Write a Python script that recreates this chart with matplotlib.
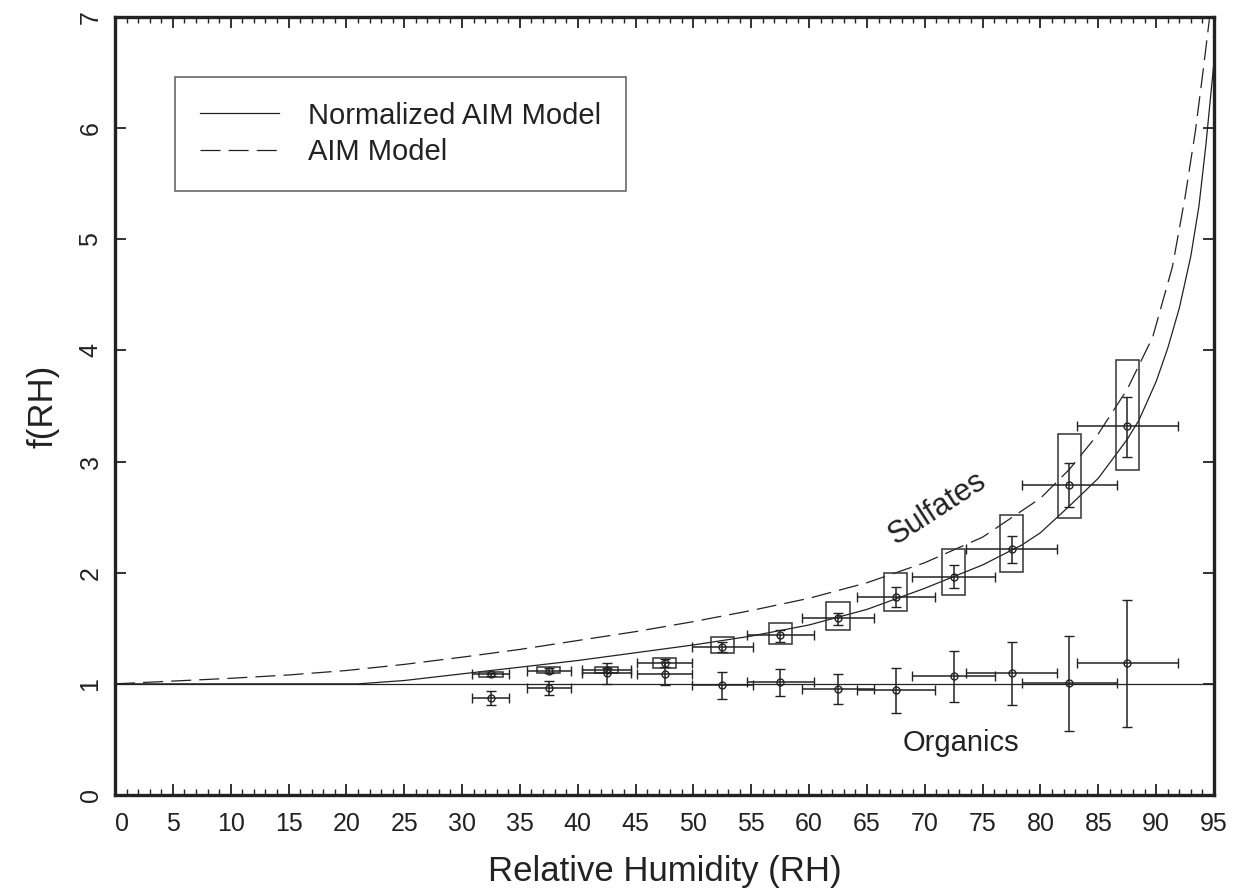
import matplotlib
matplotlib.use("Agg")
import matplotlib.pyplot as plt
from matplotlib.patches import Rectangle
from matplotlib.ticker import MultipleLocator
from matplotlib.lines import Line2D

plt.rcParams['font.family'] = ['Liberation Sans', 'DejaVu Sans']

# ---------------- data ----------------
rh_bins = [32.5, 37.5, 42.5, 47.5, 52.5, 57.5, 62.5, 67.5, 72.5, 77.5, 82.5, 87.5]
rh_half_width = [1.6, 1.9, 2.1, 2.35, 2.65, 2.9, 3.1, 3.4, 3.6, 3.9, 4.1, 4.35]

sulf_f = [1.09, 1.12, 1.125, 1.185, 1.335, 1.437, 1.59, 1.785, 1.965, 2.21, 2.79, 3.32]
sulf_err_lo = [1.075, 1.10, 1.105, 1.15, 1.29, 1.38, 1.53, 1.695, 1.866, 2.085, 2.595, 3.045]
sulf_err_hi = [1.10, 1.14, 1.145, 1.22, 1.38, 1.485, 1.64, 1.875, 2.065, 2.334, 2.985, 3.585]
sulf_box_lo = [1.065, 1.095, 1.095, 1.146, 1.275, 1.36, 1.485, 1.656, 1.80, 2.005, 2.49, 2.925]
sulf_box_hi = [1.11, 1.15, 1.15, 1.23, 1.425, 1.545, 1.735, 1.995, 2.21, 2.52, 3.246, 3.91]

org_f = [0.876, 0.966, 1.095, 1.089, 0.99, 1.014, 0.954, 0.945, 1.071, 1.095, 1.005, 1.185]
org_err_lo = [0.81, 0.90, 1.0, 0.99, 0.864, 0.891, 0.819, 0.735, 0.84, 0.81, 0.579, 0.609]
org_err_hi = [0.94, 1.03, 1.185, 1.20, 1.105, 1.134, 1.086, 1.146, 1.30, 1.377, 1.434, 1.755]

aim_rh = [0, 5, 10, 15, 20, 25, 30, 35, 40, 45, 50, 55, 60, 65, 70, 75, 80, 82.5,
          85, 87.5, 89.7, 91.4, 92.5, 93.4, 94.1, 94.6]
aim_f = [1.0, 1.025, 1.05, 1.08, 1.12, 1.175, 1.24, 1.31, 1.39, 1.47, 1.56, 1.66,
         1.77, 1.91, 2.09, 2.32, 2.67, 2.93, 3.25, 3.65, 4.12, 4.75, 5.38, 5.98,
         6.55, 6.98]

norm_rh = [0, 21, 25, 30, 35, 40, 45, 50, 55, 60, 65, 70, 75, 78.4, 80, 82.5, 85,
           87.5, 88.5, 90, 91, 92, 93, 93.7, 94.3, 95]
norm_f = [1.0, 1.0, 1.03, 1.09, 1.15, 1.21, 1.28, 1.35, 1.43, 1.53, 1.67, 1.86,
          2.07, 2.25, 2.36, 2.6, 2.85, 3.2, 3.37, 3.72, 4.02, 4.38, 4.85, 5.3, 5.85, 6.6]

x_ticks = list(range(0, 96, 5))
y_ticks = list(range(0, 8))

BOX_HALF = 1.0
INK = '#222222'

# ---------------- figure ----------------
fig = plt.figure(figsize=(12.33, 8.96), dpi=100)
ax = fig.add_axes([115/1233, 1-795/896, (1214-115)/1233, (795-17)/896])
ax.set_xlim(0, 95)
ax.set_ylim(0, 7)

# reference line at 1
ax.axhline(1.0, color=INK, lw=0.9, zorder=2)

# model curves
ax.plot(norm_rh, norm_f, color=INK, lw=0.9, zorder=3)
ax.plot(aim_rh, aim_f, color=INK, lw=0.9, dashes=(16, 6.5), zorder=3)

# sulfate boxes
for x, lo, hi in zip(rh_bins, sulf_box_lo, sulf_box_hi):
    ax.add_patch(Rectangle((x - BOX_HALF, lo), 2 * BOX_HALF, hi - lo,
                           fill=False, edgecolor='#333333', lw=1.1, zorder=4))

def errs(center, lo, hi):
    return [[c - l for c, l in zip(center, lo)], [h - c for c, h in zip(center, hi)]]

common = dict(fmt='o', mfc='none', mec=INK, ms=5, mew=1.0, ecolor=INK,
              elinewidth=1.1, capsize=3.3, capthick=1.1, zorder=5)
ax.errorbar(rh_bins, sulf_f, yerr=errs(sulf_f, sulf_err_lo, sulf_err_hi),
            xerr=rh_half_width, **common)
ax.errorbar(rh_bins, org_f, yerr=errs(org_f, org_err_lo, org_err_hi),
            xerr=rh_half_width, **common)

# annotations
ax.text(71.1, 2.58, 'Sulfates', rotation=33, ha='center', va='center',
        fontsize=22, color=INK)
ax.text(73.1, 0.47, 'Organics', ha='center', va='center', fontsize=21, color=INK)

# ticks / spines
ax.set_xticks(x_ticks)
ax.set_yticks(y_ticks)
ax.xaxis.set_minor_locator(MultipleLocator(1))
ax.tick_params(axis='both', which='major', direction='in', length=8, width=1.3,
               color=INK, labelsize=18, labelcolor=INK, top=True, right=True)
ax.tick_params(axis='x', which='minor', direction='in', length=4.5, width=1.0,
               color=INK, top=True, bottom=True)
ax.tick_params(axis='x', which='major', pad=12)
ax.tick_params(axis='y', which='major', pad=9)
for lab in ax.get_yticklabels():
    lab.set_rotation(90)
    lab.set_va('center')
ax.get_xticklabels()[0].set_ha('left')
for s in ax.spines.values():
    s.set_linewidth(2.4)
    s.set_color(INK)

ax.set_xlabel('Relative Humidity (RH)', fontsize=25, color=INK, labelpad=14)
ax.set_ylabel('f(RH)', fontsize=25, color=INK, labelpad=14)

# legend
handles = [Line2D([], [], color=INK, lw=0.9),
           Line2D([], [], color=INK, lw=0.9, dashes=(16, 6.5))]
leg = ax.legend(handles, ['Normalized AIM Model', 'AIM Model'],
                loc='upper left', bbox_to_anchor=(0.055, 0.923),
                fontsize=21, frameon=True, fancybox=False, handlelength=2.7,
                handletextpad=1.0, borderpad=0.85, labelspacing=0.3,
                borderaxespad=0)
leg.get_frame().set_edgecolor('#333333')
leg.get_frame().set_linewidth(1.1)
for t in leg.get_texts():
    t.set_color(INK)

fig.savefig('out.png', dpi=100)
